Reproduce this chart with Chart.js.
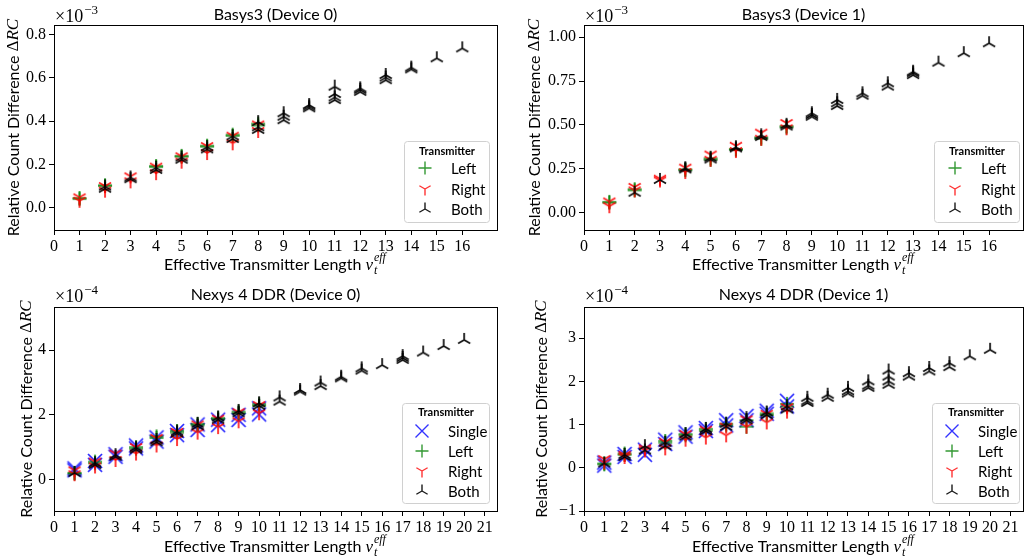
<!DOCTYPE html>
<html><head><meta charset="utf-8">
<script src="https://cdn.jsdelivr.net/npm/chart.js@4.4.1/dist/chart.umd.min.js"></script>
<style>
html,body{margin:0;padding:0;background:#fff;}
#wrap{position:relative;width:1031px;height:559px;overflow:hidden;background:#fff;}
canvas{position:absolute;}
</style></head><body>
<div id="wrap">
<canvas id="c0" width="515" height="280" style="left:0;top:0"></canvas>
<canvas id="c1" width="516" height="280" style="left:515px;top:0"></canvas>
<canvas id="c2" width="515" height="279" style="left:0;top:280px"></canvas>
<canvas id="c3" width="516" height="279" style="left:515px;top:280px"></canvas>
</div>
<script>
// ---------------- DATA ----------------
const xTicksBasys = [0,1,2,3,4,5,6,7,8,9,10,11,12,13,14,15,16];
const xTicksNexys = [0,1,2,3,4,5,6,7,8,9,10,11,12,13,14,15,16,17,18,19,20,21];
const yTicksB3D0 = [0,0.2,0.4,0.6,0.8];
const yLabelsB3D0 = ['0.0','0.2','0.4','0.6','0.8'];
const yTicksB3D1 = [0,0.25,0.5,0.75,1.0];
const yLabelsB3D1 = ['0.00','0.25','0.50','0.75','1.00'];
const yTicksN4D0 = [0,2,4];
const yLabelsN4D0 = ['0','2','4'];
const yTicksN4D1 = [-1,0,1,2,3];
const yLabelsN4D1 = ['\u22121','0','1','2','3'];

const titles = ['Basys3 (Device 0)','Basys3 (Device 1)','Nexys 4 DDR (Device 0)','Nexys 4 DDR (Device 1)'];
const exponents = ['\u22123','\u22123','\u22124','\u22124'];

// Basys3 device 0 (x1e-3): [length, [values]]
const b3d0Left = [[1,[0.040,0.045]],[2,[0.100,0.104]],[4,[0.188,0.193]],[5,[0.236,0.240]],[6,[0.282,0.287]],[7,[0.332,0.338]],[8,[0.380,0.389]]];
const b3d0Right = [[1,[0.048,0.032]],[2,[0.100,0.079]],[3,[0.145,0.122]],[4,[0.190,0.160]],[5,[0.238,0.213]],[6,[0.285,0.253]],[7,[0.333,0.298]],[8,[0.385,0.355]]];
const b3d0Both = [[2,[0.088,0.098]],[3,[0.132,0.140]],[4,[0.175,0.185]],[5,[0.222,0.232]],[6,[0.270,0.280]],[7,[0.318,0.330]],[8,[0.360,0.372,0.396]],[9,[0.405,0.421,0.437]],[10,[0.460,0.468,0.475]],[11,[0.498,0.510,0.526,0.560]],[12,[0.536,0.545,0.552]],[13,[0.590,0.602,0.614]],[14,[0.640,0.648]],[15,[0.691]],[16,[0.737]]];

// Basys3 device 1 (x1e-3)
const b3d1Left = [[1,[0.055,0.060]],[2,[0.125,0.132]],[4,[0.240,0.245]],[5,[0.300,0.308]],[6,[0.357,0.362]],[7,[0.420,0.428]],[8,[0.485,0.492]]];
const b3d1Right = [[1,[0.062,0.035]],[2,[0.145,0.125]],[3,[0.192,0.182]],[4,[0.255,0.230]],[5,[0.330,0.300]],[6,[0.380,0.350]],[7,[0.455,0.420]],[8,[0.510,0.480]]];
const b3d1Both = [[2,[0.112]],[3,[0.185]],[4,[0.245,0.252]],[5,[0.302,0.312]],[6,[0.365,0.372]],[7,[0.430,0.440]],[8,[0.490,0.500]],[9,[0.546,0.556,0.566]],[10,[0.607,0.623,0.642]],[11,[0.666,0.680]],[12,[0.718,0.737]],[13,[0.784,0.795,0.803]],[14,[0.855]],[15,[0.909]],[16,[0.966]]];

// Nexys 4 DDR device 0 (x1e-4)
const n4d0Single = [[1,[0.34,0.28]],[2,[0.57,0.45]],[3,[0.78,0.70]],[4,[0.96,1.05]],[5,[1.17,1.30]],[6,[1.37,1.50]],[7,[1.53,1.70]],[8,[1.68,1.85]],[9,[1.84,2.00]],[10,[2.01,2.20]]];
const n4d0Left = [[1,[0.18,0.20]],[2,[0.50,0.55]],[4,[0.95,1.00]],[5,[1.28,1.33]],[6,[1.45,1.50]],[7,[1.68,1.72]],[8,[1.86,1.90]],[9,[2.05,2.10]],[10,[2.28,2.33]]];
const n4d0Right = [[1,[0.28,0.16]],[2,[0.55,0.40]],[3,[0.80,0.60]],[4,[1.00,0.80]],[5,[1.28,1.05]],[6,[1.47,1.25]],[7,[1.70,1.45]],[8,[1.88,1.62]],[9,[2.08,1.80]],[10,[2.30,2.05]]];
const n4d0Both = [[1,[0.20]],[2,[0.45,0.50]],[3,[0.70,0.75]],[4,[0.92,0.98]],[5,[1.15,1.22]],[6,[1.42,1.48]],[7,[1.65,1.72]],[8,[1.85,1.92]],[9,[2.05,2.12]],[10,[2.28,2.36]],[11,[2.41,2.54]],[12,[2.72,2.77]],[13,[2.89,3.00]],[14,[3.13,3.18]],[15,[3.37,3.44]],[16,[3.54]],[17,[3.70,3.76,3.82]],[18,[3.93]],[19,[4.13]],[20,[4.32]]];

// Nexys 4 DDR device 1 (x1e-4)
const n4d1Single = [[1,[0.05,0.12]],[2,[0.25,0.32]],[3,[0.30,0.42]],[4,[0.55,0.65]],[5,[0.72,0.82]],[6,[0.85,0.92]],[7,[0.98,1.10]],[8,[1.10,1.20]],[9,[1.25,1.32]],[10,[1.42,1.55]]];
const n4d1Left = [[1,[0.08,0.10]],[2,[0.30,0.33]],[4,[0.58,0.62]],[5,[0.75,0.78]],[6,[0.86,0.90]],[7,[0.98,1.02]],[8,[0.95,1.10]],[9,[1.22,1.26]],[10,[1.42,1.48]]];
const n4d1Right = [[1,[0.20,0.12]],[2,[0.30,0.25]],[3,[0.45,0.40]],[4,[0.60,0.45]],[5,[0.78,0.65]],[6,[0.88,0.70]],[7,[0.95,0.75]],[8,[1.12,0.95]],[9,[1.25,1.05]],[10,[1.40,1.30]]];
const n4d1Both = [[1,[0.10]],[2,[0.25,0.30]],[3,[0.40,0.50]],[4,[0.50,0.58]],[5,[0.72,0.78]],[6,[0.85,0.90]],[7,[0.95,1.02]],[8,[1.10,1.15]],[9,[1.22,1.28]],[10,[1.35,1.42]],[11,[1.50,1.54,1.62]],[12,[1.62,1.69]],[13,[1.72,1.77,1.85]],[14,[1.85,1.90,2.00]],[15,[1.92,2.00,2.11,2.25]],[16,[2.11,2.19]],[17,[2.23,2.31]],[18,[2.33,2.42]],[19,[2.58]],[20,[2.73]]];

// ---------------- MARKERS ----------------
const SANS = 'Lato, "Open Sans", sans-serif';
const SERIF = '"Liberation Serif", "DejaVu Serif", serif';
function makeMarker(type, color, r, lw){
  const size = 2*Math.ceil(r + lw);
  const c = document.createElement('canvas');
  c.width = size; c.height = size;
  const g = c.getContext('2d');
  const o = size/2;
  g.strokeStyle = color; g.lineWidth = lw; g.lineCap = 'butt';
  g.beginPath();
  const s = Math.sin(Math.PI/3), h = 0.5;
  if (type === 'triUp') {
    g.moveTo(o,o); g.lineTo(o, o-r);
    g.moveTo(o,o); g.lineTo(o - s*r, o + h*r);
    g.moveTo(o,o); g.lineTo(o + s*r, o + h*r);
  } else if (type === 'triDown') {
    g.moveTo(o,o); g.lineTo(o, o+r);
    g.moveTo(o,o); g.lineTo(o - s*r, o - h*r);
    g.moveTo(o,o); g.lineTo(o + s*r, o - h*r);
  } else if (type === 'plus') {
    g.moveTo(o-r,o); g.lineTo(o+r,o);
    g.moveTo(o,o-r); g.lineTo(o,o+r);
  } else if (type === 'x') {
    g.moveTo(o-r,o-r); g.lineTo(o+r,o+r);
    g.moveTo(o-r,o+r); g.lineTo(o+r,o-r);
  }
  g.stroke();
  return c;
}
const R = 7, LW = 1.7;
const mk = {
  Single: makeMarker('x','rgba(0,0,255,0.85)',R,LW),
  Left: makeMarker('plus','rgba(0,128,0,0.85)',R,LW),
  Right: makeMarker('triDown','rgba(255,0,0,0.9)',R,LW),
  Both: makeMarker('triUp','rgba(0,0,0,0.95)',R,LW)
};
const mkLegend = {
  Single: makeMarker('x','rgba(0,0,255,0.8)',6.5,1.4),
  Left: makeMarker('plus','rgba(0,128,0,0.8)',6.5,1.4),
  Right: makeMarker('triDown','rgba(255,0,0,0.8)',6.5,1.4),
  Both: makeMarker('triUp','rgba(0,0,0,0.9)',6.5,1.4)
};

function flat(groups){
  const out = [];
  groups.forEach(([x, vals]) => vals.forEach(v => out.push({x:x, y:v})));
  return out;
}

// ---------------- DECORATION PLUGIN ----------------
function textW(ctx, font, t){ ctx.font = font; return ctx.measureText(t).width; }
const decoPlugin = {
  id: 'deco',
  afterDraw(chart, args, o) {
    const ctx = chart.ctx, ca = chart.chartArea;
    ctx.save();
    // frame
    ctx.strokeStyle = '#000'; ctx.lineWidth = 1;
    ctx.strokeRect(Math.round(ca.left)+0.5, Math.round(ca.top)+0.5, Math.round(ca.right-ca.left), Math.round(ca.bottom-ca.top));
    ctx.fillStyle = '#000';
    // title
    ctx.font = '16px ' + SANS; ctx.textAlign = 'center'; ctx.textBaseline = 'middle';
    ctx.fillText(o.title, (ca.left+ca.right)/2, o.titleY);
    // exponent
    ctx.textAlign = 'left'; ctx.textBaseline = 'alphabetic';
    ctx.font = '18px ' + SERIF;
    const ex = ca.left + 1;
    ctx.fillText('\u00d710', ex, o.expoY);
    const w10 = ctx.measureText('\u00d710').width;
    ctx.font = '13px ' + SERIF;
    ctx.fillText(o.expo, ex + w10 + 1, o.expoY - 8);
    // y label
    const f1 = '16px ' + SANS, fD = '17px ' + SERIF, fI = 'italic 17px ' + SERIF;
    const p1 = 'Relative Count Difference ';
    const w1 = textW(ctx,f1,p1), wD = textW(ctx,fD,'\u0394'), wI = textW(ctx,fI,'RC');
    const tot = w1 + wD + wI;
    ctx.save();
    ctx.translate(o.yLabelX, (ca.top+ca.bottom)/2);
    ctx.rotate(-Math.PI/2);
    ctx.textBaseline = 'middle'; ctx.textAlign = 'left';
    let xx = -tot/2;
    ctx.font = f1; ctx.fillText(p1, xx, 0); xx += w1;
    ctx.font = fD; ctx.fillText('\u0394', xx, 0); xx += wD;
    ctx.font = fI; ctx.fillText('RC', xx, 0);
    ctx.restore();
    // x label
    const q1 = 'Effective Transmitter Length ';
    const fs = 'italic 12px ' + SERIF;
    const wq = textW(ctx,f1,q1), wv = textW(ctx,fI,'v'), wsup = textW(ctx,fs,'eff'), wsub = textW(ctx,fs,'t');
    const totx = wq + wv + Math.max(wsup,wsub) + 2;
    let x0 = (ca.left+ca.right)/2 - totx/2;
    const by = o.xLabelY;
    ctx.textBaseline = 'alphabetic'; ctx.textAlign = 'left';
    ctx.font = f1; ctx.fillText(q1, x0, by); x0 += wq;
    ctx.font = fI; ctx.fillText('v', x0, by); x0 += wv + 1;
    ctx.font = fs; ctx.fillText('eff', x0, by - 9); ctx.fillText('t', x0, by + 4);
    // legend
    const L = o.legend;
    ctx.beginPath();
    const rr = 3;
    ctx.moveTo(L.x+rr, L.y); ctx.lineTo(L.x+L.w-rr, L.y); ctx.quadraticCurveTo(L.x+L.w, L.y, L.x+L.w, L.y+rr);
    ctx.lineTo(L.x+L.w, L.y+L.h-rr); ctx.quadraticCurveTo(L.x+L.w, L.y+L.h, L.x+L.w-rr, L.y+L.h);
    ctx.lineTo(L.x+rr, L.y+L.h); ctx.quadraticCurveTo(L.x, L.y+L.h, L.x, L.y+L.h-rr);
    ctx.lineTo(L.x, L.y+rr); ctx.quadraticCurveTo(L.x, L.y, L.x+rr, L.y);
    ctx.closePath();
    ctx.fillStyle = 'rgba(255,255,255,0.8)'; ctx.fill();
    ctx.strokeStyle = '#d0d0d0'; ctx.lineWidth = 1; ctx.stroke();
    ctx.fillStyle = '#000';
    ctx.font = 'bold 11px ' + SANS; ctx.textAlign = 'center'; ctx.textBaseline = 'middle';
    ctx.fillText('Transmitter', L.x + L.w/2, L.titleY);
    ctx.font = '15px ' + SANS; ctx.textAlign = 'left';
    L.items.forEach((name, i) => {
      const y = L.rows[i];
      const im = mkLegend[name];
      ctx.drawImage(im, L.mx - im.width/2, y - im.height/2);
      ctx.fillText(name, L.lx, y + 1);
    });
    ctx.restore();
  }
};

// ---------------- CHART FACTORY ----------------
function makeChart(id, p) {
  const datasets = p.series.map(([name, groups], i) => ({
    label: name,
    data: flat(groups),
    pointStyle: mk[name],
    pointRadius: 7,
    pointHoverRadius: 7,
    showLine: false,
    order: p.series.length - i
  }));
  return new Chart(document.getElementById(id), {
    type: 'scatter',
    data: { datasets },
    plugins: [decoPlugin],
    options: {
      responsive: false,
      animation: false,
      events: [],
      layout: { padding: { left: 0, top: p.top, right: p.right, bottom: 0 } },
      plugins: {
        legend: { display: false },
        tooltip: { enabled: false },
        title: { display: false },
        deco: p.deco
      },
      scales: {
        x: {
          type: 'linear', min: 0, max: p.xMax,
          afterBuildTicks: s => { s.ticks = p.xTicks.map(v => ({ value: v })); },
          afterFit: s => { s.height = p.xH; },
          ticks: { font: { family: SERIF, size: 16 }, color: '#000', padding: 2, maxRotation: 0, autoSkip: false,
                   callback: v => String(v) },
          grid: { drawOnChartArea: false, drawTicks: true, tickLength: 5, tickColor: '#000', tickWidth: 1 },
          border: { display: true, color: '#000', width: 1 }
        },
        y: {
          type: 'linear', min: p.yMin, max: p.yMax,
          afterBuildTicks: s => { s.ticks = p.yTicks.map(v => ({ value: v })); },
          afterFit: s => { s.width = p.yW; },
          ticks: { font: { family: SERIF, size: 16 }, color: '#000', padding: 3, autoSkip: false,
                   callback: (v, i) => p.yLabels[i] },
          grid: { drawOnChartArea: false, drawTicks: true, tickLength: 5, tickColor: '#000', tickWidth: 1 },
          border: { display: true, color: '#000', width: 1 }
        }
      }
    }
  });
}

makeChart('c0', {
  series: [['Left', b3d0Left], ['Right', b3d0Right], ['Both', b3d0Both]],
  xTicks: xTicksBasys, xMax: 17.36, yTicks: yTicksB3D0, yLabels: yLabelsB3D0, yMin: -0.103, yMax: 0.845,
  top: 25, right: 18, yW: 54, xH: 50,
  deco: { title: titles[0], titleY: 15, expo: exponents[0], expoY: 22, yLabelX: 14, xLabelY: 270,
    legend: { x: 404.5, y: 141.5, w: 85, h: 81, titleY: 151, rows: [168, 189, 209], mx: 425, lx: 451, items: ['Left','Right','Both'] } }
});
makeChart('c1', {
  series: [['Left', b3d1Left], ['Right', b3d1Right], ['Both', b3d1Both]],
  xTicks: xTicksBasys, xMax: 17.34, yTicks: yTicksB3D1, yLabels: yLabelsB3D1, yMin: -0.101, yMax: 1.07,
  top: 25, right: 4, yW: 69, xH: 50,
  deco: { title: titles[1], titleY: 15, expo: exponents[1], expoY: 22, yLabelX: 20, xLabelY: 270,
    legend: { x: 419.5, y: 141.5, w: 85, h: 81, titleY: 151, rows: [168, 189, 209], mx: 440, lx: 466, items: ['Left','Right','Both'] } }
});
makeChart('c2', {
  series: [['Single', n4d0Single], ['Left', n4d0Left], ['Right', n4d0Right], ['Both', n4d0Both]],
  xTicks: xTicksNexys, xMax: 21.6, yTicks: yTicksN4D0, yLabels: yLabelsN4D0, yMin: -0.98, yMax: 5.34,
  top: 27, right: 18, yW: 54, xH: 48,
  deco: { title: titles[2], titleY: 15, expo: exponents[2], expoY: 22, yLabelX: 27, xLabelY: 272,
    legend: { x: 402.5, y: 123.5, w: 87, h: 100, titleY: 132, rows: [151, 171, 191, 211], mx: 422, lx: 448, items: ['Single','Left','Right','Both'] } }
});
makeChart('c3', {
  series: [['Single', n4d1Single], ['Left', n4d1Left], ['Right', n4d1Right], ['Both', n4d1Both]],
  xTicks: xTicksNexys, xMax: 21.62, yTicks: yTicksN4D1, yLabels: yLabelsN4D1, yMin: -1.0, yMax: 3.72,
  top: 27, right: 4, yW: 69, xH: 48,
  deco: { title: titles[3], titleY: 15, expo: exponents[3], expoY: 22, yLabelX: 27, xLabelY: 272,
    legend: { x: 417.5, y: 123.5, w: 87, h: 100, titleY: 132, rows: [151, 171, 191, 211], mx: 437, lx: 463, items: ['Single','Left','Right','Both'] } }
});
</script>
</body></html>
